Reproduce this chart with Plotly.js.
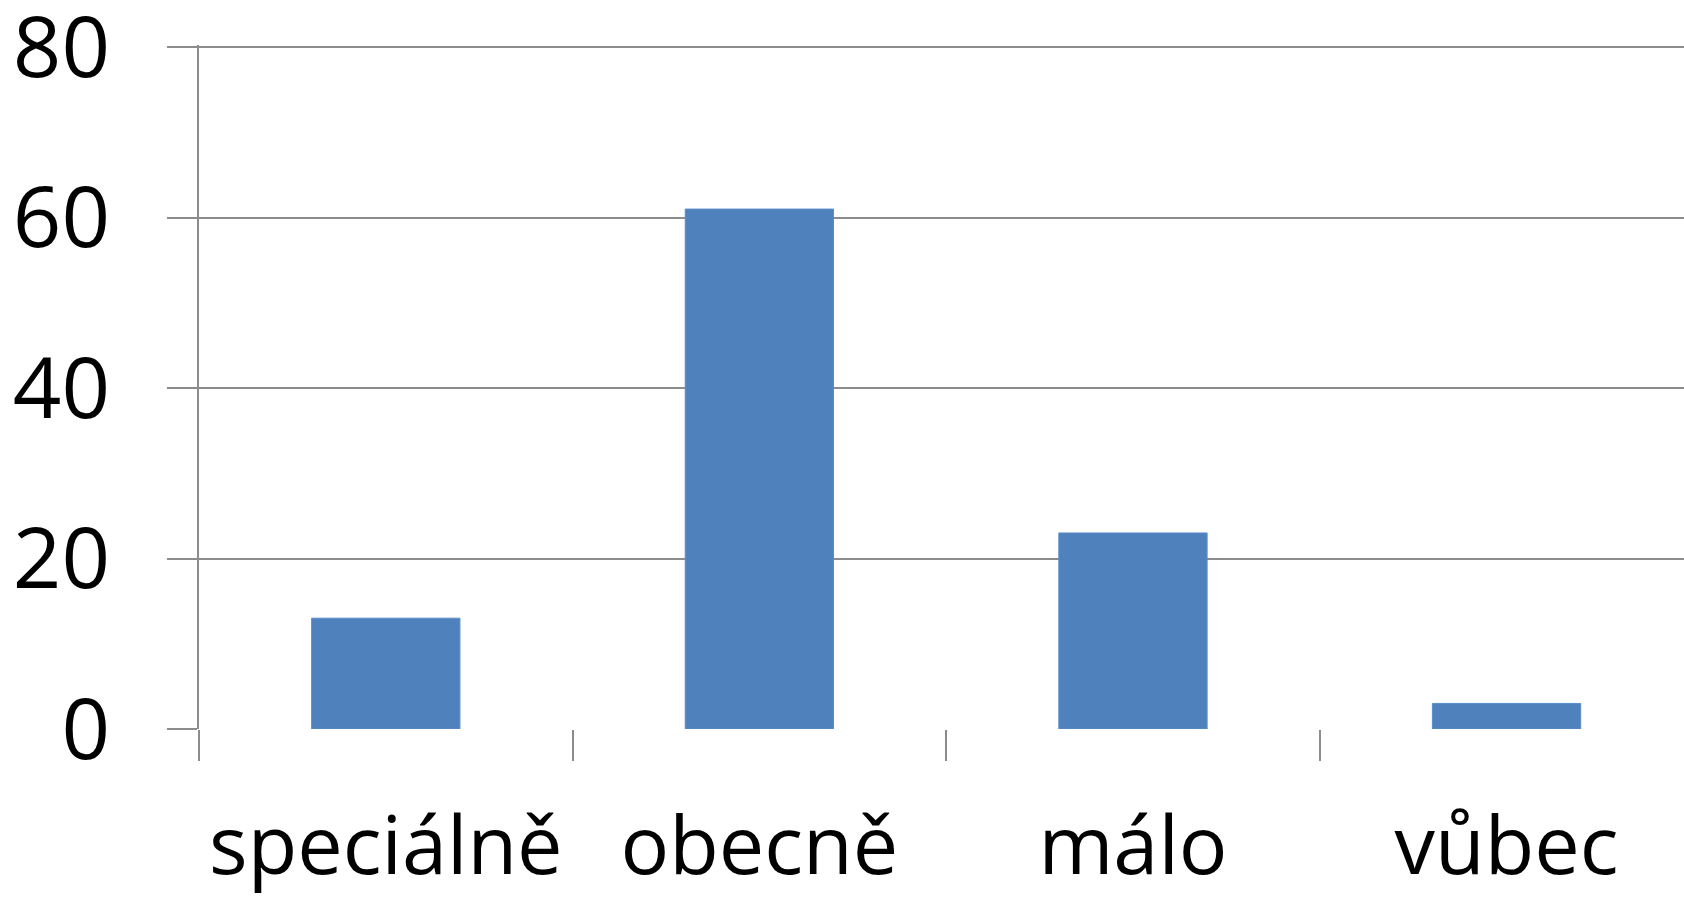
<!DOCTYPE html>
<html>
<head>
<meta charset="utf-8">
<script src="https://cdn.plot.ly/plotly-3.0.1.min.js"></script>
<style>html,body{margin:0;padding:0;background:#fff;}#chart{width:1684px;height:899px;}</style>
</head>
<body>
<div id="chart"></div>
<script>
const categories = ["speciálně", "obecně", "málo", "vůbec"];
const values = [13, 61, 23, 3];
const yTickValues = [0, 20, 40, 60, 80];
const yTickLabels = ["0", "20", "40", "60", "80"];

const gridColor = "#8c8c8c";
const fontFamily = "'Open Sans', 'Noto Sans', sans-serif";

const trace = {
  type: "bar",
  x: categories,
  y: values,
  marker: { color: "#4F81BD", line: { color: "#5B8DCB", width: 1 } },
  hoverinfo: "x+y"
};

const layout = {
  width: 1684,
  height: 899,
  margin: { l: 199, r: 0, t: 45, b: 170, pad: 0 },
  paper_bgcolor: "#ffffff",
  plot_bgcolor: "#ffffff",
  showlegend: false,
  bargap: 0.603,
  font: { family: fontFamily, color: "#000000", size: 82 },
  xaxis: {
    type: "category",
    range: [-0.5, 3.475],
    showgrid: false,
    zeroline: false,
    showline: false,
    ticks: "outside",
    tickson: "boundaries",
    ticklen: 31,
    tickwidth: 2,
    tickcolor: gridColor,
    tickfont: { family: fontFamily, size: 81, color: "#000000" },
    ticklabelstandoff: 63,
    ticklabeloverflow: "allow",
    automargin: false,
    fixedrange: true
  },
  yaxis: {
    range: [0, 80.25],
    tickvals: yTickValues,
    ticktext: yTickLabels,
    showgrid: true,
    gridcolor: gridColor,
    gridwidth: 2,
    zeroline: false,
    showline: true,
    linecolor: gridColor,
    linewidth: 2,
    ticks: "outside",
    ticklen: 30,
    tickwidth: 2,
    tickcolor: gridColor,
    tickfont: { family: fontFamily, size: 85, color: "#000000" },
    ticklabelstandoff: 40,
    ticklabeloverflow: "allow",
    automargin: false,
    fixedrange: true
  }
};

Plotly.newPlot("chart", [trace], layout, { displayModeBar: false, staticPlot: true });
</script>
</body>
</html>
